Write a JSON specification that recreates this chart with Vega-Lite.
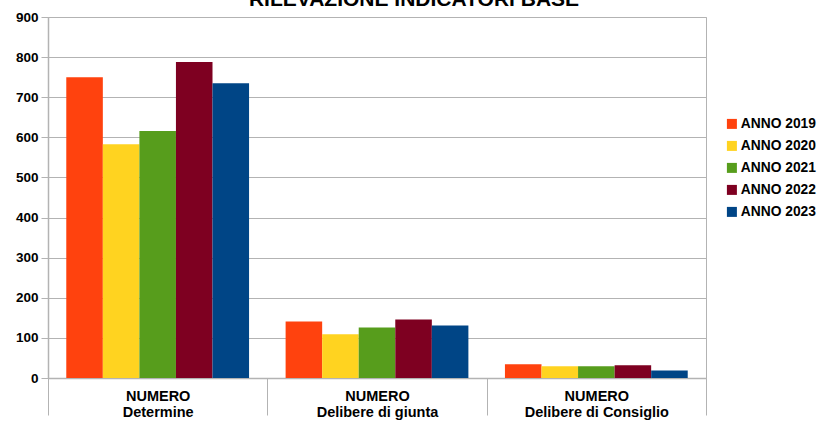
{
  "$schema": "https://vega.github.io/schema/vega-lite/v6.json",
  "autosize": "none",
  "width": 658,
  "height": 361,
  "padding": {"left": 48, "top": 17, "right": 114, "bottom": 44},
  "background": "white",
  "title": {
    "text": "RILEVAZIONE INDICATORI BASE",
    "font": "Liberation Sans",
    "fontSize": 21,
    "fontWeight": "bold",
    "color": "#000000",
    "anchor": "middle",
    "baseline": "alphabetic",
    "offset": 4,
    "dx": 37,
    "dy": 21
  },
  "config": {
    "view": {"stroke": "#b3b3b3", "strokeWidth": 1},
    "font": "Liberation Sans"
  },
  "data": {
    "values": [
      {"categoria": "NUMERO|Determine", "anno": "ANNO 2019", "valore": 750},
      {"categoria": "NUMERO|Determine", "anno": "ANNO 2020", "valore": 583},
      {"categoria": "NUMERO|Determine", "anno": "ANNO 2021", "valore": 616},
      {"categoria": "NUMERO|Determine", "anno": "ANNO 2022", "valore": 788},
      {"categoria": "NUMERO|Determine", "anno": "ANNO 2023", "valore": 735},
      {"categoria": "NUMERO|Delibere di giunta", "anno": "ANNO 2019", "valore": 141},
      {"categoria": "NUMERO|Delibere di giunta", "anno": "ANNO 2020", "valore": 109},
      {"categoria": "NUMERO|Delibere di giunta", "anno": "ANNO 2021", "valore": 126},
      {"categoria": "NUMERO|Delibere di giunta", "anno": "ANNO 2022", "valore": 146},
      {"categoria": "NUMERO|Delibere di giunta", "anno": "ANNO 2023", "valore": 131},
      {"categoria": "NUMERO|Delibere di Consiglio", "anno": "ANNO 2019", "valore": 34},
      {"categoria": "NUMERO|Delibere di Consiglio", "anno": "ANNO 2020", "valore": 29},
      {"categoria": "NUMERO|Delibere di Consiglio", "anno": "ANNO 2021", "valore": 29},
      {"categoria": "NUMERO|Delibere di Consiglio", "anno": "ANNO 2022", "valore": 32},
      {"categoria": "NUMERO|Delibere di Consiglio", "anno": "ANNO 2023", "valore": 19}
    ]
  },
  "mark": {"type": "bar"},
  "encoding": {
    "x": {
      "field": "categoria",
      "type": "nominal",
      "sort": null,
      "scale": {"paddingInner": 0, "paddingOuter": 0},
      "axis": {
        "title": null,
        "labelExpr": "split(datum.label, '|')",
        "labelAngle": 0,
        "labelFont": "Liberation Sans",
        "labelFontSize": 14.5,
        "labelFontWeight": "bold",
        "labelColor": "#000000",
        "labelLineHeight": 16,
        "labelBaseline": "top",
        "labelPadding": -26,
        "tickBand": "extent",
        "tickSize": 37,
        "tickColor": "#b3b3b3",
        "domainColor": "#b3b3b3",
        "domainWidth": 1.5,
        "grid": false
      }
    },
    "xOffset": {
      "field": "anno",
      "type": "nominal",
      "scale": {"paddingInner": 0, "paddingOuter": 0.5}
    },
    "y": {
      "field": "valore",
      "type": "quantitative",
      "scale": {"domain": [0, 900], "nice": false},
      "axis": {
        "title": null,
        "values": [0, 100, 200, 300, 400, 500, 600, 700, 800, 900],
        "labelFont": "Liberation Sans",
        "labelFontSize": 13.5,
        "labelFontWeight": "bold",
        "labelColor": "#000000",
        "labelPadding": 3,
        "tickSize": 7,
        "tickColor": "#b3b3b3",
        "domainColor": "#b3b3b3",
        "domainWidth": 1.5,
        "gridColor": "#b3b3b3",
        "gridWidth": 1
      }
    },
    "color": {
      "field": "anno",
      "type": "nominal",
      "scale": {
        "domain": ["ANNO 2019", "ANNO 2020", "ANNO 2021", "ANNO 2022", "ANNO 2023"],
        "range": ["#FF420E", "#FFD320", "#579D1C", "#7E0021", "#004586"]
      },
      "legend": {
        "title": null,
        "orient": "none",
        "legendX": 677,
        "legendY": 100,
        "symbolType": "square",
        "symbolSize": 100,
        "symbolStrokeWidth": 0,
        "labelFont": "Liberation Sans",
        "labelFontSize": 13.8,
        "labelFontWeight": "bold",
        "labelColor": "#000000",
        "rowPadding": 7,
        "labelOffset": 2,
        "padding": 0
      }
    }
  }
}
